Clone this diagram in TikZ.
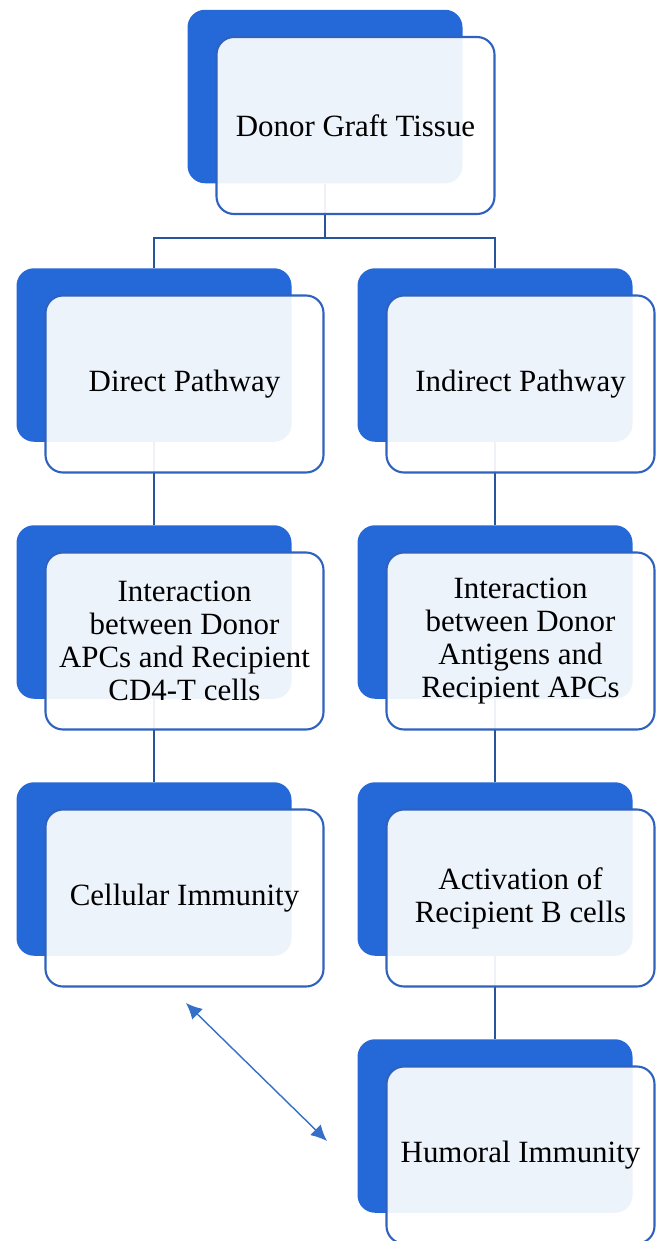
\documentclass[tikz,border=0pt]{standalone}
\usepackage{fontspec}
\setmainfont{Liberation Serif}
\usetikzlibrary{positioning,arrows,arrows.meta,calc}
\definecolor{panelblue}{RGB}{37,105,216}
\definecolor{rimblue}{RGB}{46,98,190}
\definecolor{linkblue}{RGB}{40,84,156}
\definecolor{arrowblue}{RGB}{52,112,200}
\tikzset{
    panel/.style = {fill=panelblue, rounded corners=0.35cm, inner sep=0pt,
        minimum width=5.5cm, minimum height=3.47cm},
    card/.style = {draw=rimblue, line width=1.2pt, rounded corners=0.35cm,
        fill=white, fill opacity=0.92, text opacity=1,
        minimum width=5.56cm, minimum height=3.54cm, align=center,
        xshift=0.61cm, yshift=-0.58cm,
        font=\fontsize{17.6}{18.8}\selectfont},
    narrow/.style = {minimum width=5.36cm, xshift=-0.1cm},
    link/.style = {draw=linkblue, line width=1.6pt},
    twoway/.style = {draw=arrowblue, line width=0.8pt,
        {Latex[length=3.2mm,width=3mm]}-{Latex[length=3.2mm,width=3mm]}}
}

\begin{document}
\begin{tikzpicture}[auto, node distance=5.14cm, >=latex']
        \useasboundingbox (0,0) rectangle (13.1,-24.82);
        % back panels
        \node [panel] (back0) at (6.5,-1.93) {};
        \node [panel, below of=back0, node distance=5.17cm, xshift=-3.42cm] (back1) {};
        \node [panel, right of=back1, node distance=6.82cm] (back2) {};
        \node [panel, below of=back1] (back3) {};
        \node [panel, below of=back2] (back4) {};
        \node [panel, below of=back3] (back5) {};
        \node [panel, below of=back4] (back6) {};
        \node [panel, below of=back6] (back8) {};
        % tree lines
        \node [coordinate, below of=back0, node distance=2.83cm] (split) {};
        \draw [link] (back0) -- (split);
        \draw [link] (back1) |- (split) -| (back2);
        \draw [link] (back1) -- (back3) -- (back5);
        \draw [link] (back2) -- (back4) -- (back6) -- (back8);
        % front cards
        \node [card] (tissue) at (back0) {Donor Graft Tissue};
        \node [card] (direct) at (back1) {Direct Pathway};
        \node [card, narrow] (indirect) at (back2) {Indirect Pathway};
        \node [card] (apcs) at (back3) {Interaction\\between Donor\\APCs and Recipient\\CD4-T cells};
        \node [card, narrow] (antigens) at (back4) {Interaction\\between Donor\\Antigens and\\Recipient APCs};
        \node [card] (cellular) at (back5) {Cellular Immunity};
        \node [card, narrow] (bcells) at (back6) {Activation of\\Recipient B cells};
        \node [card, narrow] (humoral) at (back8) {Humoral Immunity};
        % cellular <-> humoral
        \coordinate (endA) at (3.72,-20.06);
        \coordinate (endB) at (6.54,-22.82);
        \draw [twoway] (endA) -- (endB);
\end{tikzpicture}
\end{document}
